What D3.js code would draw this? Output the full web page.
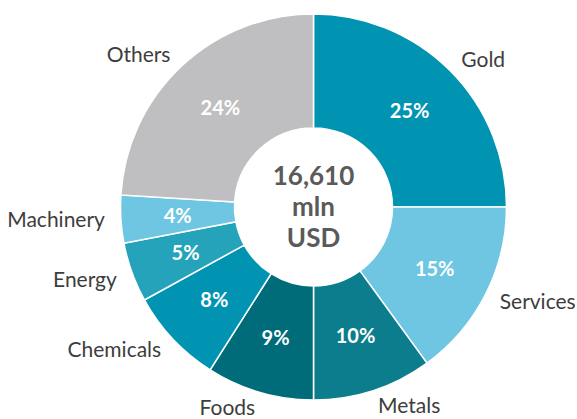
<!DOCTYPE html>
<html>
<head>
<meta charset="utf-8">
<script src="https://cdn.jsdelivr.net/npm/d3@7"></script>
<style>
  body { margin: 0; background: #fff; }
  svg { display: block; font-family: Lato, "Open Sans", sans-serif; }
</style>
</head>
<body>
<div id="chart"></div>
<script>
// chart data
const categories = ['Gold', 'Services', 'Metals', 'Foods', 'Chemicals', 'Energy', 'Machinery', 'Others'];
const shares = [25, 15, 10, 9, 8, 5, 4, 24];
const sliceColors = ['#0093b2', '#6ec6e2', '#0b7d8c', '#006c7a', '#0093b2', '#24a3bb', '#6ec6e2', '#bfbfc1'];
const centerLines = ['16,610', 'mln', 'USD'];

const width = 577;
const height = 419;
const cx = 313.5;
const cy = 207;
const outerR = 193;
const innerR = 79;

const svg = d3.select('#chart')
  .append('svg')
  .attr('width', width)
  .attr('height', height);

const g = svg.append('g').attr('transform', `translate(${cx},${cy})`);

const pie = d3.pie().sort(null).value(d => d.value);
const arcs = pie(categories.map((c, i) => ({ name: c, value: shares[i], color: sliceColors[i] })));

const arc = d3.arc().innerRadius(innerR).outerRadius(outerR);

// slices
g.selectAll('path')
  .data(arcs)
  .join('path')
  .attr('d', arc)
  .attr('fill', d => d.data.color)
  .attr('stroke', '#fff')
  .attr('stroke-width', 1.5);

// percent labels inside
g.selectAll('text.pct')
  .data(arcs)
  .join('text')
  .attr('class', 'pct')
  .attr('transform', d => `translate(${arc.centroid(d)})`)
  .attr('text-anchor', 'middle')
  .attr('dy', '0.35em')
  .attr('fill', '#fff')
  .attr('font-weight', 700)
  .attr('font-size', 20)
  .text(d => d.data.value + '%');

// category labels outside, with a simple push-down so they don't crowd
const labelR = outerR + 16;
const minGap = 60;
const maxY = height - cy - 11;
const labels = arcs.map(d => {
  const mid = (d.startAngle + d.endAngle) / 2;
  return {
    name: d.data.name,
    right: mid < Math.PI,
    x: Math.sin(mid) * labelR,
    y: -Math.cos(mid) * labelR
  };
});
[true, false].forEach(side => {
  const group = labels.filter(l => l.right === side).sort((a, b) => a.y - b.y);
  for (let i = 1; i < group.length; i++) {
    if (group[i].y - group[i - 1].y < minGap) group[i].y = group[i - 1].y + minGap;
  }
  group.forEach(l => { l.y = Math.min(l.y, maxY); });
});

g.selectAll('text.cat')
  .data(labels)
  .join('text')
  .attr('class', 'cat')
  .attr('x', d => d.x)
  .attr('y', d => d.y)
  .attr('text-anchor', d => (d.right ? 'start' : 'end'))
  .attr('dy', '0.35em')
  .attr('fill', '#3d3d3d')
  .attr('font-size', 21)
  .text(d => d.name);

// center text
g.selectAll('text.center')
  .data(centerLines)
  .join('text')
  .attr('class', 'center')
  .attr('text-anchor', 'middle')
  .attr('y', (d, i) => (i - 1) * 31)
  .attr('dy', '0.35em')
  .attr('fill', '#5a5a5a')
  .attr('font-weight', 700)
  .attr('font-size', 26)
  .text(d => d);
</script>
</body>
</html>
